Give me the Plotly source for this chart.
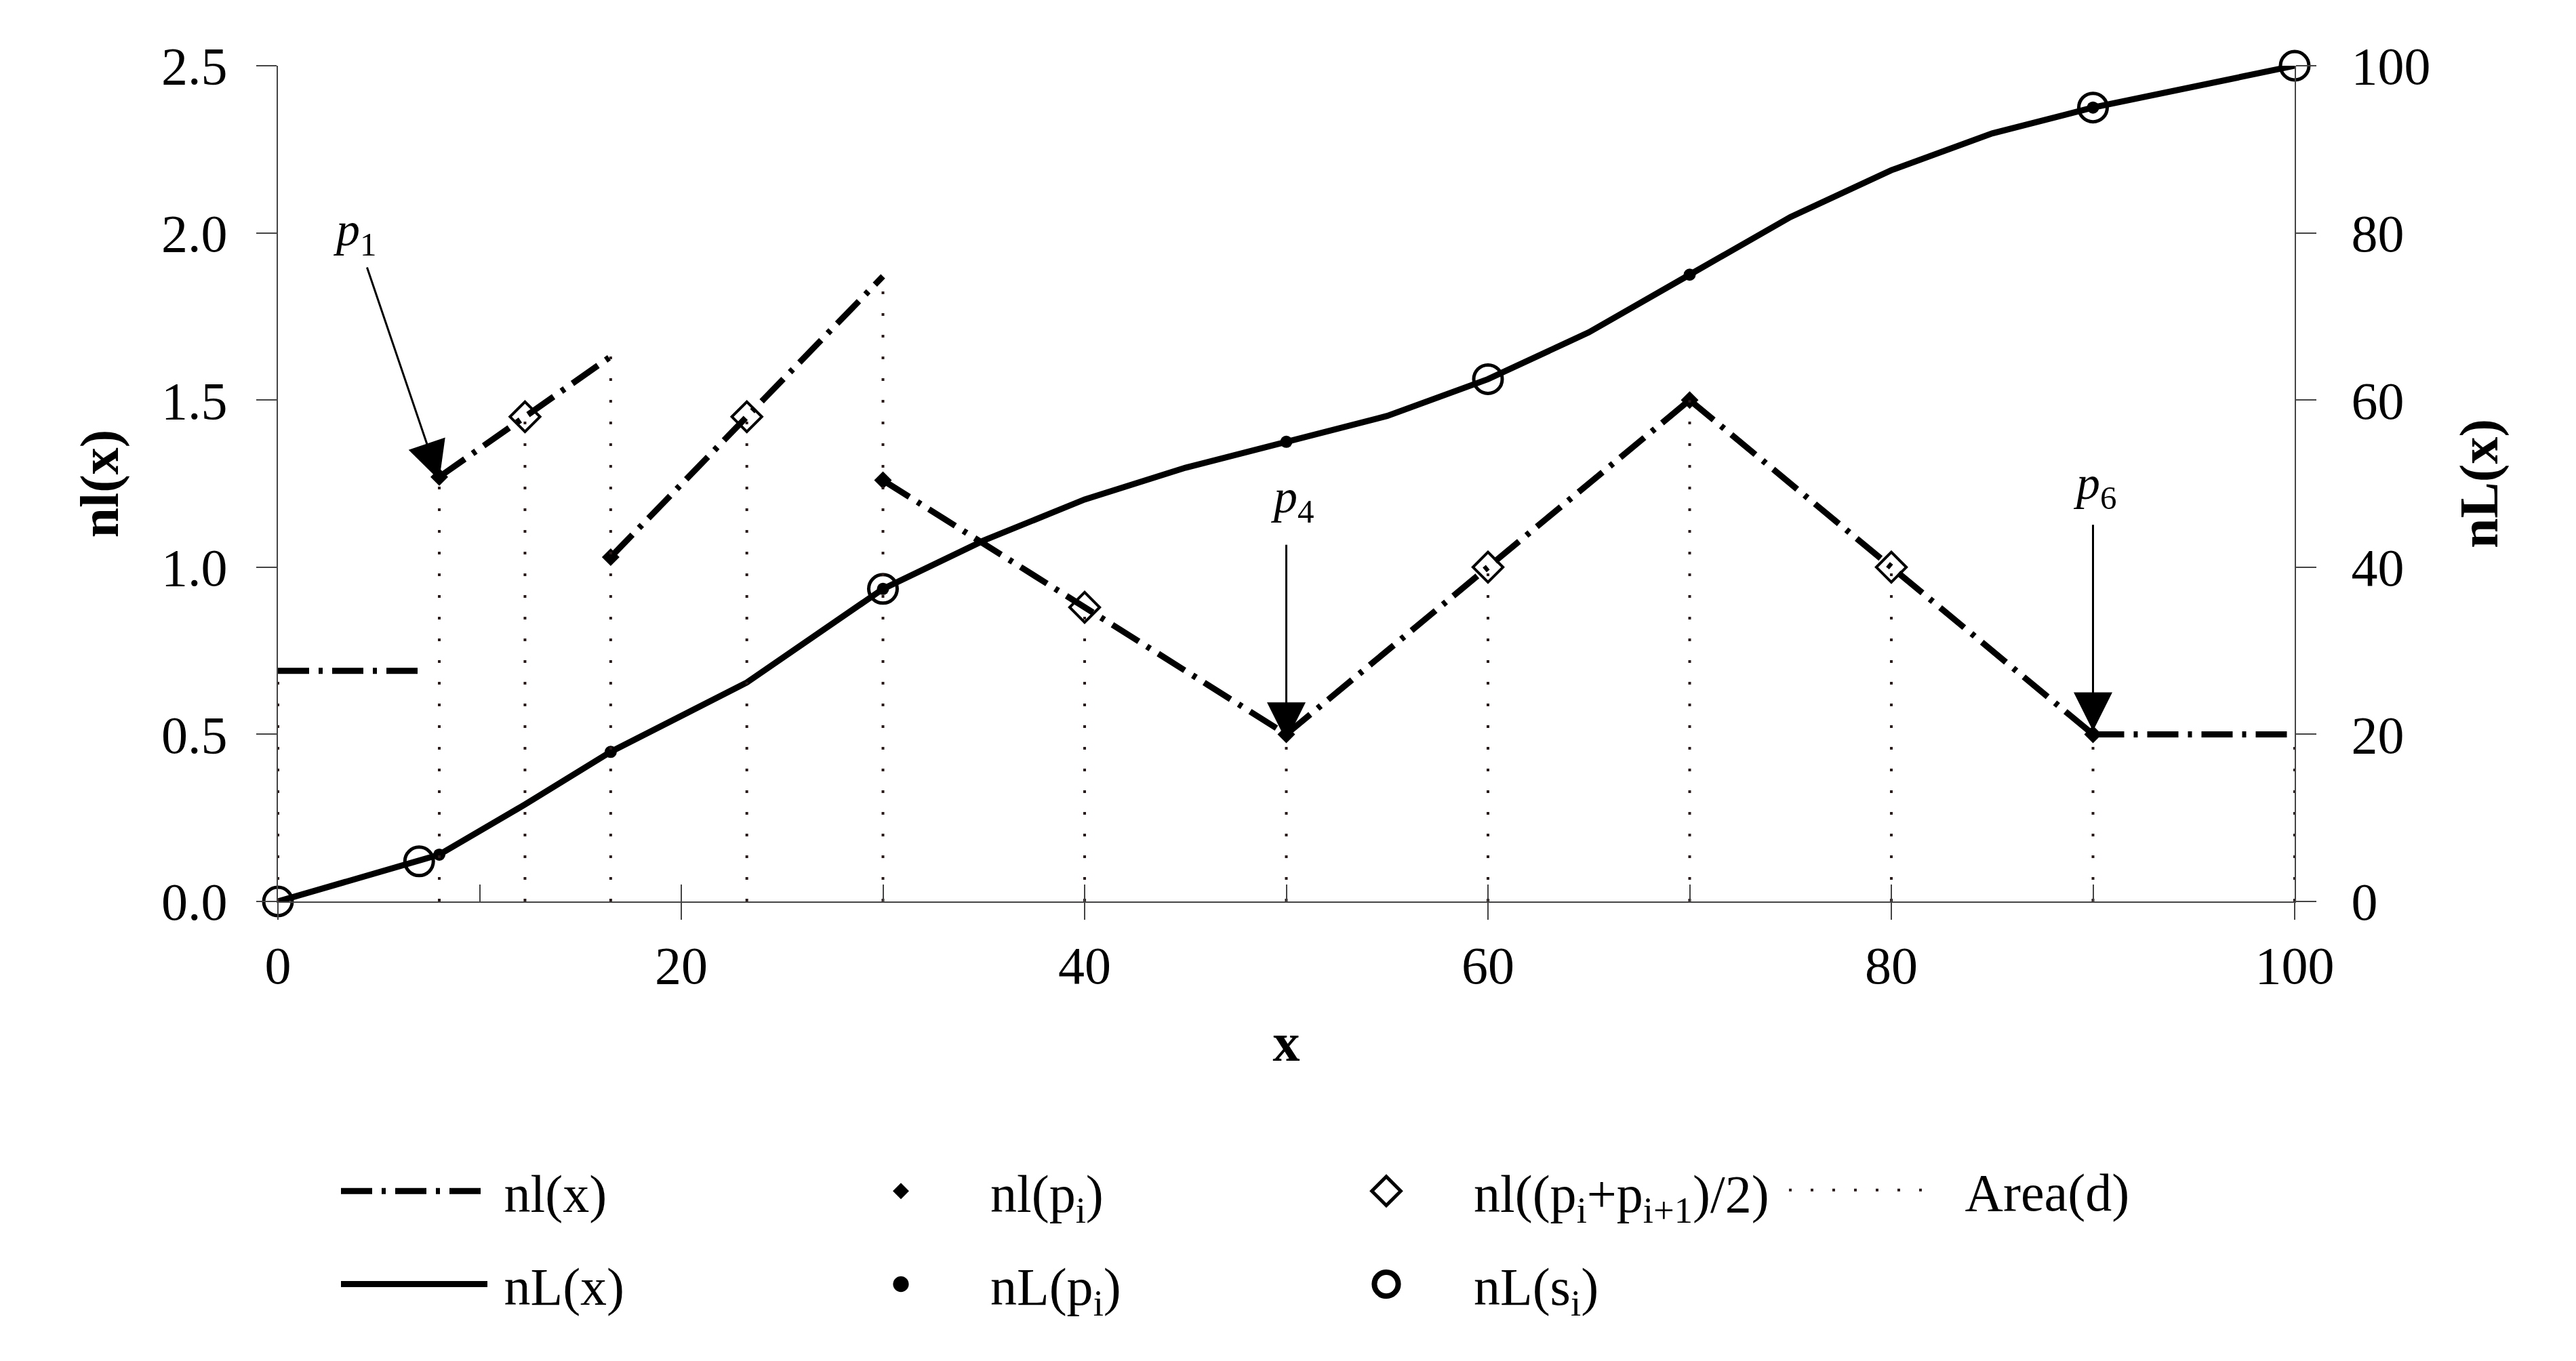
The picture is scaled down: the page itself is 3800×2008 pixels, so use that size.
import plotly.graph_objects as go

# ---------------- data ----------------
# nl(x): piecewise-linear density, one list per segment
nl_seg_x = [[0, 7], [8, 16.5], [16.5, 30], [30, 50], [50, 70], [70, 90], [90, 100]]
nl_seg_y = [[0.69, 0.69], [1.27, 1.63], [1.03, 1.87], [1.26, 0.50], [0.50, 1.50], [1.50, 0.50], [0.50, 0.50]]

# nL(x): cumulative curve (right axis)
nL_x = [0, 7, 8, 12.25, 16.5, 23.25, 30, 35, 40, 45, 50, 55, 60, 65, 70, 75, 80, 85, 90, 95, 100]
nL_y = [0, 4.8, 5.6, 11.6, 17.9, 26.2, 37.4, 43.2, 48.1, 51.9, 55.0, 58.1, 62.5, 68.1, 75.0, 81.9, 87.5, 91.9, 95.0, 97.5, 100]

# nl(p_i)
p_x = [8, 16.5, 30, 50, 70, 90]
nl_p_y = [1.27, 1.03, 1.26, 0.50, 1.50, 0.50]
# nL(p_i)
nL_p_y = [5.6, 17.9, 37.4, 55.0, 75.0, 95.0]

# nl((p_i+p_{i+1})/2)
mid_x = [12.25, 23.25, 40, 60, 80]
mid_y = [1.45, 1.45, 0.88, 1.00, 1.00]

# nL(s_i)
s_x = [0, 7, 30, 60, 90, 100]
s_y = [0, 4.8, 37.4, 62.5, 95.0, 100]

# Area(d): vertical dotted lines from 0 up to nl(x)
area_x = [0, 8, 12.25, 16.5, 23.25, 30, 40, 50, 60, 70, 80, 90, 100]
area_top = [0.69, 1.27, 1.45, 1.63, 1.45, 1.87, 0.88, 0.50, 1.00, 1.50, 1.00, 0.50, 0.50]

# arrow annotations: label, tip (x, y), tail (x, y), label position (x, y)
arr_labels = ["<i>p</i><sub>1</sub>", "<i>p</i><sub>4</sub>", "<i>p</i><sub>6</sub>"]
arr_tip = [(8, 1.26), (50, 0.48), (90, 0.51)]
arr_tail = [(4.4, 1.90), (50, 1.07), (90, 1.13)]
arr_lab = [(3.8, 2.00), (50.3, 1.20), (90.1, 1.24)]

FONT = "Liberation Serif"
BLACK = "#000000"
AXC = "#444444"
NB = "\u00a0"

# ---------------- build traces ----------------
def join_segments(xs, ys):
    X, Y = [], []
    for sx, sy in zip(xs, ys):
        X += list(sx) + [None]
        Y += list(sy) + [None]
    return X, Y

nlX, nlY = join_segments(nl_seg_x, nl_seg_y)
arX, arY = join_segments([[v, v] for v in area_x], [[0, t] for t in area_top])

fig = go.Figure()

fig.add_trace(go.Scatter(
    x=arX, y=arY, mode="lines", name="\u2002\u2009Area(d)", xaxis="x2", yaxis="y",
    line=dict(color="#2a1a1a", width=4, dash="4px,28px"),
    legend="legend4", legendgroup="g", connectgaps=False))

fig.add_trace(go.Scatter(
    x=nlX, y=nlY, mode="lines", name=NB + "nl(x)",
    line=dict(color=BLACK, width=9, dash="46px,14px,6px,14px"),
    legend="legend", legendgroup="a", connectgaps=False))

fig.add_trace(go.Scatter(
    x=nL_x, y=nL_y, mode="lines", name=NB + "nL(x)", yaxis="y2",
    line=dict(color=BLACK, width=9),
    legend="legend", legendgroup="b"))

fig.add_trace(go.Scatter(
    x=p_x, y=nl_p_y, mode="markers", name="nl(p<sub>i</sub>)",
    marker=dict(symbol="diamond", size=20, color=BLACK),
    legend="legend2", legendgroup="c", cliponaxis=False))

fig.add_trace(go.Scatter(
    x=p_x, y=nL_p_y, mode="markers", name="nL(p<sub>i</sub>)", yaxis="y2",
    marker=dict(symbol="circle", size=18, color=BLACK),
    legend="legend2", legendgroup="d", cliponaxis=False))

fig.add_trace(go.Scatter(
    x=mid_x, y=mid_y, mode="markers", name="nl((p<sub>i</sub>+p<sub>i+1</sub>)/2)",
    marker=dict(symbol="diamond-open", size=34, color=BLACK, line=dict(width=4, color=BLACK)),
    legend="legend3", legendgroup="e", cliponaxis=False))

fig.add_trace(go.Scatter(
    x=s_x, y=s_y, mode="markers", name="nL(s<sub>i</sub>)", yaxis="y2",
    marker=dict(symbol="circle-open", size=42, color=BLACK, line=dict(width=5, color=BLACK)),
    legend="legend3", legendgroup="f", cliponaxis=False))

# ---------------- annotations (arrows) ----------------
ann = []
for lab, tip, tail, lp in zip(arr_labels, arr_tip, arr_tail, arr_lab):
    ann.append(dict(x=tip[0], y=tip[1], ax=tail[0], ay=tail[1], xref="x", yref="y",
                    axref="x", ayref="y", text="", showarrow=True, arrowhead=2,
                    arrowsize=3.8, arrowwidth=3, arrowcolor=BLACK, standoff=0))
    ann.append(dict(x=lp[0], y=lp[1], xref="x", yref="y", text=lab, showarrow=False,
                    font=dict(family=FONT, size=70, color=BLACK)))

tickfont = dict(family=FONT, size=78, color=BLACK)
titlefont = dict(family=FONT, size=80, color=BLACK)

L, R, T, B = 402, 423, 89, 686
W, H = 3800, 2008
pw, ph = W - L - R, H - T - B

def px2paper_x(px):
    return (px - L) / pw

def px2paper_y(py):
    return (H - B - py) / ph

legend_common = dict(font=dict(family=FONT, size=78, color=BLACK), bgcolor="rgba(0,0,0,0)",
                     borderwidth=0, orientation="v", traceorder="grouped",
                     tracegroupgap=33, itemsizing="trace", xanchor="left", yanchor="middle")

fig.update_layout(
    width=W, height=H,
    margin=dict(l=L, r=R, t=T, b=B, autoexpand=False),
    paper_bgcolor="white", plot_bgcolor="white",
    font=dict(family=FONT, color=BLACK),
    showlegend=True,
    xaxis=dict(range=[0, 100], dtick=20, ticks="outside", ticklen=25, tickwidth=2, tickcolor=AXC,
               showline=True, linecolor=AXC, linewidth=2, showgrid=False, zeroline=False,
               tickfont=tickfont, title=dict(text="<b>x</b>", font=titlefont, standoff=42)),
    xaxis2=dict(range=[0, 100], dtick=10, ticks="inside", ticklen=25, tickwidth=2, tickcolor=AXC,
                overlaying="x", anchor="y", side="bottom", showticklabels=False,
                showline=False, showgrid=False, zeroline=False),
    yaxis=dict(range=[0, 2.5], dtick=0.5, tickformat=".1f", ticks="outside", ticklen=30,
               tickwidth=2, tickcolor=AXC, showline=True, linecolor=AXC, linewidth=2,
               showgrid=False, zeroline=False, tickfont=tickfont, ticklabelstandoff=27,
               title=dict(text="<b>nl(x)</b>", font=titlefont, standoff=37)),
    yaxis2=dict(range=[0, 100], dtick=20, ticks="outside", ticklen=30, tickwidth=2, tickcolor=AXC,
                overlaying="y", side="right", anchor="x", showline=True, linecolor=AXC, linewidth=2,
                showgrid=False, zeroline=False, tickfont=tickfont, ticklabelstandoff=36,
                title=dict(text="<b>nL(x)</b>", font=titlefont, standoff=43)),
    legend=dict(x=px2paper_x(490), y=px2paper_y(1818), itemwidth=216, **legend_common),
    legend2=dict(x=px2paper_x(1189), y=px2paper_y(1818), itemwidth=254, **legend_common),
    legend3=dict(x=px2paper_x(1908), y=px2paper_y(1818), itemwidth=248, **legend_common),
    legend4=dict(x=px2paper_x(2626), y=px2paper_y(1748), itemwidth=200, **legend_common),
    annotations=ann,
)

# legend symbols in plotly are capped at 16px; scale them to the reference's size
post = """
(function(){
var gd = document.getElementById('{plot_id}');
var map = {c: [1.15, 0], d: [1.45, 0], e: [2.05, 5], f: [2.2, 8]};
function fixLegend(){
  try {
    gd.querySelectorAll('g.traces').forEach(function(g){
      var d = g.__data__;
      if(!d || !d[0] || !d[0].trace) return;
      var m = map[d[0].trace.legendgroup];
      if(!m) return;
      g.querySelectorAll('path.scatterpts').forEach(function(p){
        var t = (p.getAttribute('transform') || '').replace(/\\s*scale\\([^)]*\\)/, '');
        p.setAttribute('transform', t + ' scale(' + m[0] + ')');
        if(m[1]) { p.style.strokeWidth = (m[1] / m[0]) + 'px'; }
      });
    });
  } catch(e) {}
}
fixLegend();
setTimeout(fixLegend, 100);
if(gd.on) { gd.on('plotly_afterplot', fixLegend); }
})();
"""

fig.write_html("out.html", post_script=post)
